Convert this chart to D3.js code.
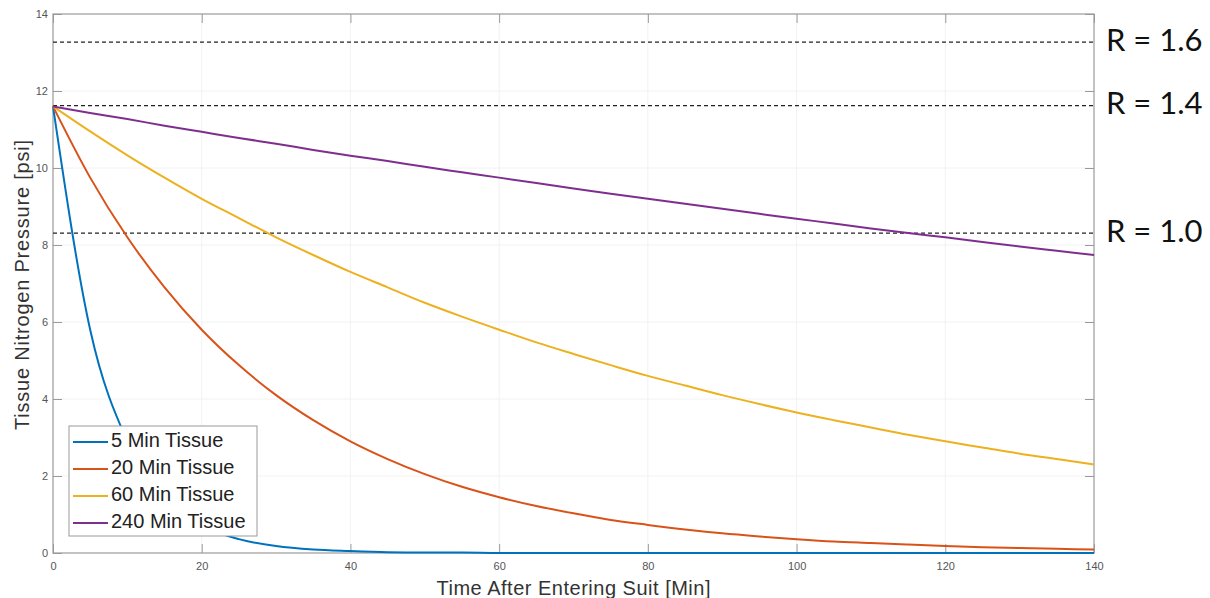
<!DOCTYPE html>
<html>
<head>
<meta charset="utf-8">
<script src="https://cdn.jsdelivr.net/npm/d3@7"></script>
<style>
  body { margin: 0; background: #fff; }
  svg { display: block; font-family: "Liberation Sans", Arial, sans-serif; }
</style>
</head>
<body>
<svg id="chart" width="1210" height="598"></svg>
<script>
// Time samples [min]
const times = [0, 5, 10, 15, 20, 25, 30, 35, 40, 45, 50, 55, 60, 65, 70, 75, 80, 85, 90, 95, 100, 105, 110, 115, 120, 125, 130, 135, 140];

// Tissue pressure [psi]
const tissue5 = [11.6, 5.8, 2.9, 1.45, 0.72, 0.36, 0.18, 0.09, 0.05, 0.02, 0.01, 0.01, 0, 0, 0, 0, 0, 0, 0, 0, 0, 0, 0, 0, 0, 0, 0, 0, 0];
const tissue20 = [11.6, 9.75, 8.2, 6.9, 5.8, 4.88, 4.1, 3.45, 2.9, 2.44, 2.05, 1.72, 1.45, 1.22, 1.03, 0.86, 0.73, 0.61, 0.51, 0.43, 0.36, 0.3, 0.26, 0.22, 0.18, 0.15, 0.13, 0.11, 0.09];
const tissue60 = [11.6, 10.95, 10.33, 9.75, 9.2, 8.7, 8.2, 7.74, 7.3, 6.9, 6.5, 6.14, 5.8, 5.47, 5.17, 4.88, 4.6, 4.35, 4.1, 3.87, 3.65, 3.45, 3.26, 3.07, 2.9, 2.74, 2.58, 2.44, 2.3];
const tissue240 = [11.6, 11.43, 11.27, 11.1, 10.94, 10.78, 10.63, 10.47, 10.32, 10.18, 10.03, 9.89, 9.75, 9.61, 9.47, 9.33, 9.2, 9.07, 8.94, 8.81, 8.68, 8.56, 8.43, 8.31, 8.2, 8.08, 7.96, 7.85, 7.74];

const seriesNames = ['5 Min Tissue', '20 Min Tissue', '60 Min Tissue', '240 Min Tissue'];
const seriesColors = ['#0072BD', '#D95319', '#EDB120', '#7E2F8E'];

// Reference ratio lines
const refLabels = ['R = 1.6', 'R = 1.4', 'R = 1.0'];
const refValues = [13.27, 11.62, 8.31];

const xTicks = [0, 20, 40, 60, 80, 100, 120, 140];
const yTicks = [0, 2, 4, 6, 8, 10, 12, 14];

const margin = {left: 53, top: 14, right: 116, bottom: 45};
const width = 1210, height = 598;

const svg = d3.select('#chart');

const x = d3.scaleLinear().domain([0, 140]).range([margin.left, width - margin.right]);
const y = d3.scaleLinear().domain([0, 14]).range([height - margin.bottom, margin.top]);

// Grid lines, very faint
const grid = svg.append('g').attr('class', 'grid');
grid.selectAll('line.gx')
  .data(xTicks.slice(1, -1))
  .join('line')
  .attr('x1', d => x(d)).attr('x2', d => x(d))
  .attr('y1', y(0)).attr('y2', y(14))
  .attr('stroke', '#f2f2f2');
grid.selectAll('line.gy')
  .data(yTicks.slice(1, -1))
  .join('line')
  .attr('class', 'gy')
  .attr('x1', x(0)).attr('x2', x(140))
  .attr('y1', d => y(d)).attr('y2', d => y(d))
  .attr('stroke', '#f2f2f2');

// Axes with inward ticks on all four sides
const axisColor = '#9a9a9a';
const tickLen = 9;

function styleAxis(g) {
  g.select('.domain').remove();
  g.selectAll('.tick line').attr('stroke', axisColor);
  g.selectAll('.tick text').attr('fill', '#555').attr('font-size', 11);
}

svg.append('g')
  .attr('transform', `translate(0,${y(0)})`)
  .call(d3.axisBottom(x).tickValues(xTicks).tickSize(-tickLen).tickPadding(9))
  .call(styleAxis);

svg.append('g')
  .attr('transform', `translate(0,${y(14)})`)
  .call(d3.axisTop(x).tickValues(xTicks).tickSize(-tickLen).tickFormat(''))
  .call(styleAxis);

svg.append('g')
  .attr('transform', `translate(${x(0)},0)`)
  .call(d3.axisLeft(y).tickValues(yTicks).tickSize(-tickLen).tickPadding(5))
  .call(styleAxis);

svg.append('g')
  .attr('transform', `translate(${x(140)},0)`)
  .call(d3.axisRight(y).tickValues(yTicks).tickSize(-tickLen).tickFormat(''))
  .call(styleAxis);

svg.append('rect')
  .attr('x', x(0)).attr('y', y(14))
  .attr('width', x(140) - x(0)).attr('height', y(0) - y(14))
  .attr('fill', 'none')
  .attr('stroke', axisColor)
  .attr('stroke-width', 1.2);

// Reference dashed lines and labels
svg.selectAll('line.ref')
  .data(refValues)
  .join('line')
  .attr('class', 'ref')
  .attr('x1', x(0)).attr('x2', x(140))
  .attr('y1', d => y(d)).attr('y2', d => y(d))
  .attr('stroke', '#222')
  .attr('stroke-width', 1.2)
  .attr('stroke-dasharray', '4,3');

svg.selectAll('text.ref')
  .data(refValues)
  .join('text')
  .attr('class', 'ref')
  .attr('x', 1106)
  .attr('y', d => y(d) + 1)
  .attr('dominant-baseline', 'middle')
  .attr('font-family', 'Lato, "Open Sans", sans-serif')
  .attr('font-size', 31)
  .attr('fill', '#111')
  .text((d, i) => refLabels[i]);

// Curves
const allSeries = [tissue5, tissue20, tissue60, tissue240];
const line = d3.line()
  .x((d, i) => x(times[i]))
  .y(d => y(d))
  .curve(d3.curveMonotoneX);

svg.append('g')
  .selectAll('path')
  .data(allSeries)
  .join('path')
  .attr('d', line)
  .attr('fill', 'none')
  .attr('stroke', (d, i) => seriesColors[i])
  .attr('stroke-width', 2);

// Legend
const legend = svg.append('g').attr('transform', 'translate(69,426)');
legend.append('rect')
  .attr('width', 188).attr('height', 110)
  .attr('fill', '#fff')
  .attr('stroke', axisColor);

const items = legend.selectAll('g.item')
  .data(seriesNames)
  .join('g')
  .attr('class', 'item')
  .attr('transform', (d, i) => `translate(0,${16 + i * 27})`);

items.append('line')
  .attr('x1', 4).attr('x2', 39)
  .attr('stroke', (d, i) => seriesColors[i])
  .attr('stroke-width', 2);

items.append('text')
  .attr('x', 42)
  .attr('dominant-baseline', 'middle')
  .attr('font-size', 20)
  .attr('fill', '#222')
  .text(d => d);

// Axis titles
svg.append('text')
  .attr('x', (x(0) + x(140)) / 2)
  .attr('y', 595)
  .attr('text-anchor', 'middle')
  .attr('font-size', 20)
  .attr('textLength', 274)
  .attr('fill', '#333')
  .text('Time After Entering Suit [Min]');

svg.append('text')
  .attr('transform', `translate(29,285) rotate(-90)`)
  .attr('text-anchor', 'middle')
  .attr('font-size', 20)
  .attr('textLength', 290)
  .attr('fill', '#333')
  .text('Tissue Nitrogen Pressure [psi]');
</script>
</body>
</html>
